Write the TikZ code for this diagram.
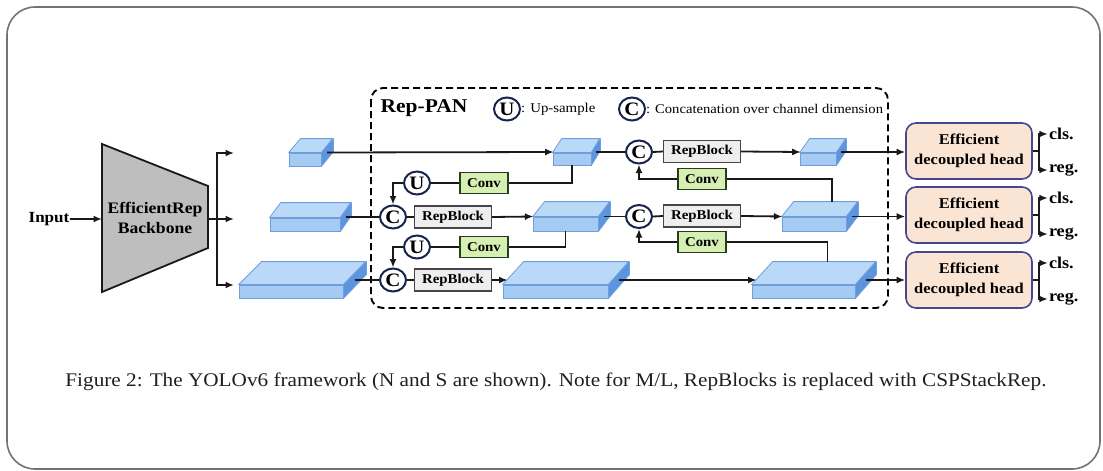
\documentclass[tikz,border=0pt]{standalone}
\usepackage{fontspec}
\setmainfont{Liberation Serif}[FakeStretch=1.1]
\usetikzlibrary{arrows.meta,shapes.geometric,calc}

\definecolor{fmfront}{RGB}{166,203,242}
\definecolor{fmtop}{RGB}{186,217,248}
\definecolor{fmside}{RGB}{92,148,222}
\definecolor{fmline}{RGB}{110,158,220}
\definecolor{navy}{RGB}{25,35,80}
\definecolor{convfill}{RGB}{214,240,180}
\definecolor{convline}{RGB}{40,60,30}
\definecolor{repfill}{RGB}{238,238,238}
\definecolor{repline}{RGB}{70,70,70}
\definecolor{headfill}{RGB}{250,228,212}
\definecolor{headline}{RGB}{70,70,140}
\definecolor{bbfill}{RGB}{190,190,190}

\tikzset{
  x=1pt, y=-1pt,
  line/.style={line width=1.8pt, draw=black!90},
  arr/.style={line, -{Latex[length=8.5pt,width=7pt]}},
  circ/.style={ellipse, draw=navy, line width=2pt, fill=white,
    minimum width=26pt, minimum height=23pt, inner sep=0pt,
    font=\fontsize{19}{19}\selectfont\bfseries},
  repblk/.style={draw=repline, fill=repfill, line width=1.4pt,
    minimum width=77pt, minimum height=22pt, inner sep=0pt,
    font=\fontsize{13.5}{13.5}\selectfont\bfseries},
  convblk/.style={draw=convline, fill=convfill, line width=1.4pt,
    minimum width=48pt, minimum height=21pt, inner sep=0pt,
    font=\fontsize{13.5}{13.5}\selectfont\bfseries},
  headblk/.style={rounded corners=10pt, draw=headline, fill=headfill,
    line width=1.6pt, minimum width=126pt, minimum height=56pt,
    align=center, inner sep=0pt,
    font=\fontsize{15}{20}\selectfont\bfseries},
  outlbl/.style={anchor=west, inner sep=1pt,
    font=\fontsize{16.5}{16.5}\selectfont\bfseries},
  fmface/.style={draw=fmline, fill=fmfront, line width=0.8pt, inner sep=0pt},
  fmedge/.style={draw=fmline, line width=0.8pt, line join=round},
}

% feature map block: name, front face x1 y1 x2 y2, depth dx dy
\newcommand\fmap[7]{%
  \pgfmathsetmacro\fmw{#4-#2}%
  \pgfmathsetmacro\fmh{#5-#3}%
  \pgfmathsetmacro\fmcx{(#2+#4)/2}%
  \pgfmathsetmacro\fmcy{(#3+#5)/2}%
  \pgfmathsetmacro\fmyc{\fmcy-#7/2}%
  \pgfmathsetmacro\fmxin{#2+(0.5-\fmh/(2*#7))*#6}%
  \node[fmface, minimum width=\fmw pt, minimum height=\fmh pt] (#1) at (\fmcx,\fmcy) {};
  \draw[fmedge, fill=fmtop] (#1.north west) -- ++(#6,-#7) -- ++(\fmw,0) -- (#1.north east) -- cycle;
  \draw[fmedge, fill=fmside] (#1.north east) -- ++(#6,-#7) -- ++(0,\fmh) -- (#1.south east) -- cycle;
  \coordinate (#1-out) at (#4+#6/2,\fmyc);
  \coordinate (#1-in) at (\fmxin,\fmyc);
  \coordinate (#1-back) at (\fmcx+#6,#3-#7);
}

\begin{document}
\begin{tikzpicture}
\useasboundingbox (0,0) rectangle (1103,471);
\draw[black!55, line width=1.6pt, rounded corners=28pt] (7,7) rectangle (1100,469);

% Rep-PAN frame and legend
\draw[line width=1.9pt, dash pattern=on 7pt off 4pt, rounded corners=12pt] (371,88) rectangle (888,308);
\node[font=\fontsize{19.5}{19.5}\selectfont\bfseries] (pan) at (424,108) {Rep-PAN};
\node[circ] (uleg) at (507,109) {U};
\node[anchor=west, inner sep=0pt, font=\fontsize{13.5}{13.5}\selectfont] (ulegtxt) at (521,109) {: Up-sample};
\node[circ] (cleg) at (632,109) {C};
\node[anchor=west, inner sep=0pt, font=\fontsize{13.3}{13.3}\selectfont] (clegtxt) at (646,109) {: Concatenation over channel dimension};

% input and backbone
\node[font=\fontsize{15.5}{15.5}\selectfont\bfseries, inner sep=0pt] (inp) at (49,219) {Input};
\draw[line, fill=bbfill] (102,144) -- (208,186) -- (208,248) -- (102,292) -- cycle;
\node[align=center, font=\fontsize{16}{20}\selectfont\bfseries] (bb) at (155,218) {EfficientRep\\Backbone};
\coordinate (bb-w) at (102,219);
\coordinate (bb-e) at (208,219);
\coordinate (bus) at (217,219);
\coordinate (f1) at (234,153);
\coordinate (f2) at (234,219);
\coordinate (f3) at (234,285);
\draw[arr] (inp.east) -- (bb-w);
\draw[arr] (bb-e) -- (f2);
\draw[arr] (bus) |- (f1);
\draw[arr] (bus) |- (f3);

% feature maps
\fmap{La}{289}{153}{321}{166}{12}{14}
\fmap{Lb}{270}{218}{340}{231}{11}{15}
\fmap{Lc}{239}{285}{343}{298}{23}{23}
\fmap{Ma}{553}{153}{591}{165}{9}{14}
\fmap{Mb}{533}{217}{598}{231}{12}{15}
\fmap{Mc}{503}{285}{608}{298}{21}{23}
\fmap{Ra}{800}{153}{836}{165}{10}{14}
\fmap{Rb}{782}{217}{846}{231}{12}{15}
\fmap{Rc}{752}{285}{855}{298}{21}{23}

% blocks
\node[circ] (cL2) at (393,217) {C};
\node[circ] (cL3) at (393,280) {C};
\node[circ] (cR1) at (639,152) {C};
\node[circ] (cR2) at (639,216.5) {C};
\node[circ] (uL1) at (417,183) {U};
\node[circ] (uL2) at (417,247) {U};
\node[repblk] (rbL2) at (453,217) {RepBlock};
\node[repblk] (rbL3) at (453,280) {RepBlock};
\node[repblk] (rbR1) at (702,151.5) {RepBlock};
\node[repblk] (rbR2) at (702,216) {RepBlock};
\node[convblk] (cvL1) at (484,183) {Conv};
\node[convblk] (cvL2) at (484,247) {Conv};
\node[convblk] (cvR1) at (702,179) {Conv};
\node[convblk] (cvR2) at (702,242) {Conv};

% heads
\node[headblk] (hd1) at (969,151) {Efficient\\decoupled head};
\node[headblk] (hd2) at (969,215) {Efficient\\decoupled head};
\node[headblk] (hd3) at (969,280) {Efficient\\decoupled head};

% level 1
\draw[arr] (La-out) -- (Ma-in);
\draw[line] (Ma-out) -- (cR1.west);
\draw[line] (cR1.east) -- (rbR1.west);
\draw[arr] (rbR1.east) -- (Ra-in);
\draw[arr] (Ra-out) -- (Ra-out -| hd1.west);

% level 2
\draw[line] (Lb-out) -- (cL2.west);
\draw[line] (cL2.east) -- (rbL2.west);
\draw[arr] (rbL2.east) -- (Mb-in);
\draw[line] (Mb-out) -- (cR2.west);
\draw[line] (cR2.east) -- (rbR2.west);
\draw[arr] (rbR2.east) -- (Rb-in);
\draw[arr] (Rb-out) -- (Rb-out -| hd2.west);

% level 3
\draw[line] (Lc-out) -- (cL3.west);
\draw[line] (cL3.east) -- (rbL3.west);
\draw[arr] (rbL3.east) -- (Mc-in);
\draw[arr] (Mc-out) -- (Rc-in);
\draw[arr] (Rc-out) -- (Rc-out -| hd3.west);

% top-down path
\draw[line] (Ma.south) |- (cvL1.east);
\draw[line] (cvL1.west) -- (uL1.east);
\draw[arr] (uL1.west) -| (cL2.north);
\draw[line] (Mb.south) |- (cvL2.east);
\draw[line] (cvL2.west) -- (uL2.east);
\draw[arr] (uL2.west) -| (cL3.north);

% bottom-up path
\draw[line] ($(Rb-back)+(6,0)$) |- (cvR1.east);
\draw[arr] (cvR1.west) -| (cR1.south);
\draw[line] ($(Rc-back)+(3,0)$) |- (cvR2.east);
\draw[arr] (cvR2.west) -| (cR2.south);

% head outputs
\foreach \h in {1,2,3}{
  \coordinate (hb\h) at ($(hd\h.east)+(6,0)$);
  \node[outlbl] (cls\h) at ($(hd\h.east)+(15,-17)$) {cls.};
  \node[outlbl] (reg\h) at ($(hd\h.east)+(15,19)$) {reg.};
  \draw[line] (hd\h.east) -- (hb\h);
  \draw[arr] (hb\h) |- (cls\h.west);
  \draw[arr] (hb\h) |- (reg\h.west);
}

% caption
\node[anchor=base, inner sep=0pt, font=\fontsize{19.3}{19.3}\selectfont, text=black!88] (cap) at (556,386)
  {Figure 2: The YOLOv6 framework (N and S are shown). Note for M/L, RepBlocks is replaced with CSPStackRep.};
\end{tikzpicture}
\end{document}
